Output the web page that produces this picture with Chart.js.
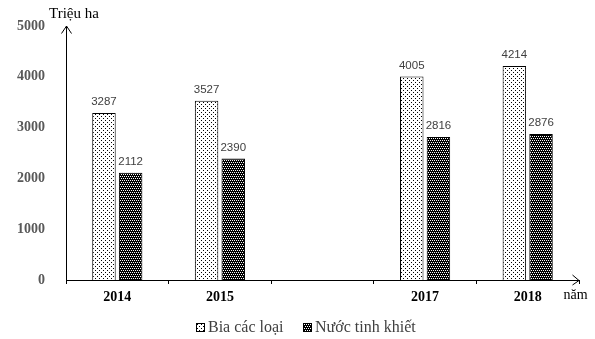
<!DOCTYPE html>
<html>
<head>
<meta charset="utf-8">
<script src="https://cdn.jsdelivr.net/npm/chart.js@4/dist/chart.umd.min.js"></script>
<style>
  html, body { margin: 0; padding: 0; background: #ffffff; }
  #wrap { width: 595px; height: 339px; position: relative; }
</style>
</head>
<body>
<div id="wrap"><canvas id="c" width="595" height="339"></canvas></div>
<script>
// Years on the category axis; 2016 is left empty to keep the time gap
const years = ['2014', '2015', '', '2017', '2018'];
const beer = [3287, 3527, null, 4005, 4214];
const water = [2112, 2390, null, 2816, 2876];
const seriesNames = ['Bia các loại', 'Nước tinh khiết'];
const yTicks = [0, 1000, 2000, 3000, 4000, 5000];
const yTitle = 'Triệu ha';
const xTitle = 'năm';

// Small dotted fills for the two series
function dotPattern(bg, fg, size, dots) {
  const c = document.createElement('canvas');
  c.width = size; c.height = size;
  const g = c.getContext('2d');
  g.fillStyle = bg; g.fillRect(0, 0, size, size);
  g.fillStyle = fg;
  dots.forEach(([x, y]) => g.fillRect(x, y, 1, 1));
  return g.createPattern(c, 'repeat');
}
const ctx = document.getElementById('c').getContext('2d');
const beerFill = dotPattern('#ffffff', '#000000', 4, [[1, 0], [3, 2]]);
const waterFill = dotPattern('#000000', '#ffffff', 4, [[0, 0], [2, 0], [1, 2], [3, 2]]);

const decorations = {
  id: 'decorations',
  afterDraw(chart) {
    const g = chart.ctx;
    const a = chart.chartArea;
    g.save();
    // axis arrowheads
    g.strokeStyle = '#000'; g.lineWidth = 1;
    g.beginPath();
    g.moveTo(a.left - 4.5, a.top + 7.5); g.lineTo(a.left + 0.5, a.top); g.lineTo(a.left + 5.5, a.top + 7.5);
    g.moveTo(a.right - 6.5, a.bottom - 5); g.lineTo(a.right, a.bottom + 0.5); g.lineTo(a.right - 6.5, a.bottom + 5);
    g.stroke();

    // axis titles
    g.fillStyle = '#000';
    g.font = '15px "Liberation Serif"';
    g.textAlign = 'center'; g.textBaseline = 'middle';
    g.fillText(yTitle, 74, 14);
    g.font = '14px "Liberation Serif"';
    g.fillText(xTitle, 575.5, 295);

    // value labels above bars
    g.font = '11.5px "Liberation Sans"';
    g.fillStyle = '#404040';
    g.textAlign = 'center'; g.textBaseline = 'alphabetic';
    chart.data.datasets.forEach((ds, i) => {
      chart.getDatasetMeta(i).data.forEach((bar, j) => {
        if (ds.data[j] == null) return;
        g.fillText(String(ds.data[j]), bar.x, bar.y - 8);
      });
    });

    // legend
    const fills = [beerFill, waterFill];
    const boxX = [196, 303];
    g.font = '16px "Liberation Serif"';
    g.textAlign = 'left'; g.textBaseline = 'alphabetic';
    seriesNames.forEach((name, i) => {
      g.fillStyle = fills[i];
      g.fillRect(boxX[i], 323, 9, 9);
      g.strokeStyle = '#000';
      g.strokeRect(boxX[i] + 0.5, 323.5, 8, 8);
      g.fillStyle = '#404040';
      g.fillText(name, boxX[i] + 12, 332);
    });
    g.restore();
  }
};

new Chart(ctx, {
  type: 'bar',
  data: {
    labels: years,
    datasets: [
      { label: seriesNames[0], data: beer, backgroundColor: beerFill, borderColor: '#000', borderWidth: 1 },
      { label: seriesNames[1], data: water, backgroundColor: waterFill, borderColor: '#000', borderWidth: 1 }
    ]
  },
  options: {
    responsive: false,
    animation: false,
    events: [],
    layout: { padding: { top: 26, right: 16, bottom: 29, left: 0 } },
    datasets: { bar: { categoryPercentage: 0.52, barPercentage: 0.88 } },
    plugins: { legend: { display: false }, tooltip: { enabled: false } },
    scales: {
      x: {
        afterFit(s) { s.height = 30; },
        grid: { display: true, drawOnChartArea: false, drawTicks: true, tickLength: 4, color: '#000', offset: true },
        border: { display: true, color: '#000', width: 1 },
        ticks: { color: '#000', font: { family: 'Liberation Serif', size: 14, weight: 'bold' }, padding: 5, maxRotation: 0 }
      },
      y: {
        min: 0, max: 5000,
        afterFit(s) { s.width = 66; },
        afterBuildTicks(s) { s.ticks = yTicks.map(v => ({ value: v })); },
        grid: { display: false },
        border: { display: true, color: '#000', width: 1 },
        ticks: {
          color: '#595959',
          font: { family: 'Liberation Serif', size: 14, weight: 'bold' },
          padding: 13,
          callback: v => String(v)
        }
      }
    }
  },
  plugins: [decorations]
});
</script>
</body>
</html>
